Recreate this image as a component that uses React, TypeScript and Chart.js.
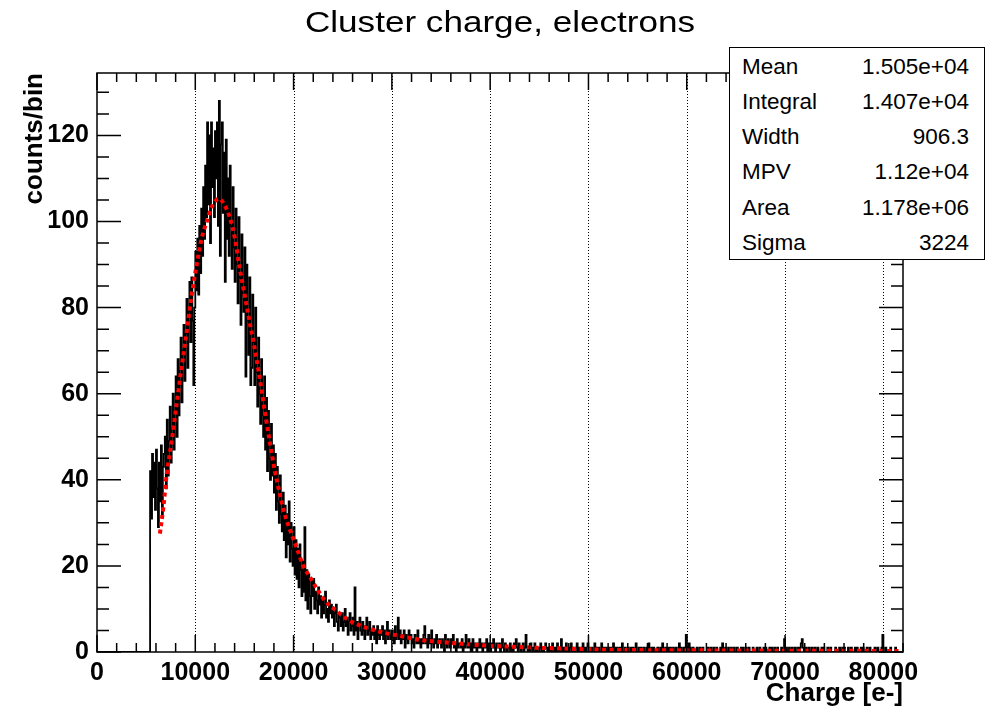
import React, { useEffect, useRef } from 'react';
import { Chart, registerables } from 'chart.js';

Chart.register(...registerables);

// ---- axis ranges / binning ----
const X_MIN = 0;
const X_MAX = 82000;
const Y_MIN = 0;
const Y_MAX = 134.5;
const BIN_WIDTH = 100;
const X_TICKS = [0, 10000, 20000, 30000, 40000, 50000, 60000, 70000, 80000];
const Y_TICKS = [0, 20, 40, 60, 80, 100, 120];
const X_LABEL_STEP = 10000;
const X_MINOR_STEP = 2000;
const Y_LABEL_STEP = 20;
const Y_MINOR_STEP = 5;
const GRID_X = [10000, 20000, 30000, 40000, 50000, 60000, 70000, 80000];

// ---- histogram contents (counts per bin, bins of BIN_WIDTH starting at X_MIN) ----
const COUNTS = [
  0, 0, 0, 0, 0, 0, 0, 0, 0, 0, 0,
  0, 0, 0, 0, 0, 0, 0, 0, 0, 0, 0,
  0, 0, 0, 0, 0, 0, 0, 0, 0, 0, 0,
  0, 0, 0, 0, 0, 0, 0, 0, 0, 0, 0,
  0, 0, 0, 0, 0, 0, 0, 0, 0, 0, 0,
  42, 31, 46, 36, 44,
  33, 47, 38, 29, 44, 35, 48, 32, 43, 46,
  50, 38, 54, 41, 49, 57, 44, 52, 60, 47,
  56, 64, 50, 68, 55, 66, 73, 58, 70, 76,
  63, 74, 82, 66, 79, 86, 72, 87, 77, 62,
  80, 93, 84, 96, 83, 99, 88, 103, 92, 108,
  96, 113, 101, 123, 104, 120, 95, 123, 108, 117,
  101, 121, 110, 123, 99, 128, 92, 118, 123, 102,
  116, 86, 119, 96, 110, 92, 113, 99, 89, 108,
  94, 86, 103, 90, 81, 101, 87, 76, 97, 83,
  79, 94, 64, 90, 77, 69, 87, 62, 66, 83,
  72, 62, 80, 65, 57, 73, 60, 53, 68, 55,
  50, 64, 47, 59, 42, 56, 45, 40, 53, 41,
  48, 37, 46, 33, 43, 35, 30, 41, 32, 28,
  37, 26, 34, 22, 32, 25, 35, 21, 30, 24,
  20, 29, 18, 26, 17, 24, 15, 25, 19, 13,
  21, 14, 29, 12, 19, 10, 18, 13, 9, 17,
  13, 17, 10, 14, 12, 9, 15, 11, 13, 8,
  12, 9, 11, 14, 8, 10, 7, 12, 9, 11,
  8, 10, 6, 9, 11, 7, 5, 9, 8, 6,
  9, 5, 7, 10, 6, 8, 4, 7, 9, 5,
  6, 8, 4, 15, 5, 7, 3, 6, 8, 5,
  4, 7, 5, 3, 6, 8, 4, 5, 7, 3,
  5, 4, 6, 3, 5, 2, 6, 4, 3, 5,
  4, 6, 3, 5, 2, 4, 7, 3, 5, 4,
  3, 5, 4, 2, 6, 3, 4, 8, 3, 5,
  2, 4, 3, 5, 1, 4, 3, 2, 5, 3,
  4, 2, 3, 1, 4, 3, 2, 5, 2, 3,
  1, 3, 2, 4, 6, 2, 3, 1, 4, 2,
  3, 5, 2, 1, 3, 2, 4, 1, 2, 3,
  2, 1, 3, 2, 0, 4, 2, 1, 3, 2,
  1, 3, 2, 4, 1, 2, 0, 3, 1, 2,
  2, 1, 3, 0, 2, 1, 4, 2, 1, 3,
  1, 2, 0, 3, 1, 2, 1, 0, 2, 1,
  3, 1, 2, 0, 1, 2, 1, 3, 0, 2,
  1, 0, 2, 1, 3, 1, 0, 2, 1, 1,
  2, 0, 1, 3, 1, 0, 2, 1, 0, 1,
  1, 2, 0, 1, 0, 2, 1, 3, 1, 0,
  2, 1, 0, 1, 2, 0, 1, 4, 1, 0,
  1, 0, 2, 1, 0, 1, 2, 0, 1, 0,
  0, 1, 2, 0, 1, 0, 1, 2, 1, 0,
  1, 0, 1, 0, 2, 1, 0, 1, 0, 2,
  0, 1, 0, 3, 1, 0, 1, 0, 2, 0,
  1, 0, 1, 2, 0, 1, 0, 0, 1, 2,
  0, 1, 0, 1, 0, 2, 0, 1, 0, 1,
  2, 0, 1, 0, 1, 0, 0, 2, 0, 1,
  0, 1, 0, 0, 2, 0, 1, 0, 1, 0,
  0, 1, 0, 1, 0, 0, 2, 0, 1, 0,
  1, 0, 0, 1, 0, 2, 0, 0, 1, 0,
  0, 1, 0, 0, 1, 0, 1, 0, 0, 2,
  0, 0, 1, 0, 1, 0, 0, 1, 0, 0,
  1, 0, 2, 0, 0, 1, 0, 1, 0, 0,
  0, 1, 0, 0, 1, 0, 2, 0, 0, 1,
  0, 0, 1, 0, 1, 0, 0, 1, 0, 0,
  1, 0, 0, 2, 0, 1, 0, 0, 1, 0,
  4, 1, 0, 2, 1, 0, 0, 1, 0, 0,
  0, 1, 0, 0, 1, 0, 0, 1, 0, 0,
  0, 0, 1, 0, 0, 1, 0, 0, 1, 0,
  0, 1, 0, 0, 0, 1, 0, 2, 0, 0,
  1, 0, 0, 1, 0, 0, 1, 0, 0, 1,
  0, 0, 1, 0, 0, 0, 1, 0, 1, 0,
  0, 1, 0, 0, 1, 0, 0, 0, 1, 0,
  0, 0, 1, 0, 0, 1, 0, 0, 0, 1,
  0, 1, 0, 0, 0, 1, 0, 1, 0, 0,
  1, 0, 0, 1, 0, 0, 0, 1, 0, 0,
  3, 0, 1, 0, 0, 1, 0, 0, 1, 0,
  0, 1, 0, 0, 1, 0, 1, 2, 3, 1,
  0, 0, 1, 0, 0, 1, 0, 0, 1, 0,
  0, 1, 0, 0, 1, 0, 0, 0, 1, 0,
  1, 0, 0, 0, 1, 0, 0, 1, 0, 0,
  0, 0, 1, 0, 0, 0, 1, 0, 0, 1,
  0, 1, 0, 0, 0, 1, 0, 0, 1, 0,
  0, 0, 1, 0, 1, 0, 0, 0, 1, 0,
  1, 0, 0, 0, 1, 0, 0, 1, 0, 0,
  0, 0, 1, 0, 0, 1, 0, 0, 0, 1,
  4, 0, 0, 1, 0, 0, 0, 0, 1, 0,
  0, 0, 0, 1, 0, 0, 0, 0, 0, 0,
];

// ---- Landau (x) Gauss fit curve ----
const FIT_X = [
  6400, 6750, 7100, 7600, 8100, 8600, 9100, 9600, 10100, 10600, 11200, 11700,
  12400, 13000, 13500, 14000, 14500, 15000, 15500, 16000, 16600, 17100, 17600,
  18100, 18600, 19100, 19600, 20300, 21000, 21700, 22400, 23200, 24400, 25400,
  26500, 28800, 30900, 32900, 35600, 39000, 42400, 47500, 52500, 60000, 70000, 81600,
];
const FIT_Y = [
  27.5, 33.6, 41.4, 49, 57.6, 66, 74, 82.4, 89.4, 95.6, 100.2, 103.5,
  105.3, 103.7, 101, 96.4, 89.4, 83.2, 77, 71, 63, 55.5, 48.5,
  42, 36.7, 32, 28.6, 24.3, 20, 17.3, 14.6, 11.9, 9.5, 7.7,
  6.4, 4.7, 3.7, 2.8, 2.2, 1.6, 1.2, 0.8, 0.5, 0.4, 0.3, 0.25,
];

// ---- texts ----
const TITLE = 'Cluster charge, electrons';
const X_TITLE = 'Charge [e-]';
const Y_TITLE = 'counts/bin';
const STATS_LABELS = ['Mean', 'Integral', 'Width', 'MPV', 'Area', 'Sigma'];
const STATS_VALUES = ['1.505e+04', '1.407e+04', '906.3', '1.12e+04', '1.178e+06', '3224'];

const FONT = '"Liberation Sans", Arial, Helvetica, sans-serif';

const rootFrame = {
  id: 'rootFrame',
  beforeDatasetsDraw(chart: any) {
    const { ctx, chartArea: a, scales } = chart;
    const xs = scales.x;
    ctx.save();
    ctx.strokeStyle = '#000';
    ctx.lineWidth = 1;
    ctx.setLineDash([1, 2]);
    GRID_X.forEach((v) => {
      const px = Math.round(xs.getPixelForValue(v)) + 0.5;
      ctx.beginPath();
      ctx.moveTo(px, a.top);
      ctx.lineTo(px, a.bottom);
      ctx.stroke();
    });
    ctx.restore();
  },
  afterDatasetsDraw(chart: any) {
    const { ctx, chartArea: a, scales } = chart;
    const xs = scales.x;
    const ys = scales.y;
    ctx.save();
    ctx.strokeStyle = '#000';
    ctx.lineWidth = 1.5;
    ctx.setLineDash([]);
    ctx.strokeRect(a.left, a.top, a.right - a.left, a.bottom - a.top);
    ctx.beginPath();
    for (let v = X_MIN; v <= X_MAX; v += X_MINOR_STEP) {
      const major = v % X_LABEL_STEP === 0;
      const px = xs.getPixelForValue(v);
      const len = major ? 17 : 9;
      ctx.moveTo(px, a.bottom);
      ctx.lineTo(px, a.bottom - len);
      ctx.moveTo(px, a.top);
      ctx.lineTo(px, a.top + len);
    }
    for (let v = Y_MIN; v <= Y_MAX; v += Y_MINOR_STEP) {
      const major = v % Y_LABEL_STEP === 0;
      const py = ys.getPixelForValue(v);
      const len = major ? 24 : 12;
      ctx.moveTo(a.left, py);
      ctx.lineTo(a.left + len, py);
      ctx.moveTo(a.right, py);
      ctx.lineTo(a.right - len, py);
    }
    ctx.stroke();
    ctx.restore();
  },
};

export default function App() {
  const canvasRef = useRef<HTMLCanvasElement | null>(null);

  useEffect(() => {
    if (!canvasRef.current) return;
    const histData = COUNTS.map((c, i) => ({ x: X_MIN + i * BIN_WIDTH, y: c }));
    histData.push({ x: X_MIN + COUNTS.length * BIN_WIDTH, y: COUNTS[COUNTS.length - 1] });
    const fitData = FIT_X.map((x, i) => ({ x, y: FIT_Y[i] }));

    const chart = new Chart(canvasRef.current, {
      type: 'line',
      data: {
        datasets: [
          {
            label: 'fit',
            data: fitData,
            borderColor: '#ff0000',
            borderWidth: 4,
            borderDash: [4, 3.5],
            pointRadius: 0,
            cubicInterpolationMode: 'monotone',
            fill: false,
            order: 0,
          },
          {
            label: 'histogram',
            data: histData,
            borderColor: '#000000',
            borderWidth: 1.8,
            pointRadius: 0,
            stepped: 'after',
            fill: false,
            order: 1,
          },
        ],
      },
      options: {
        animation: false,
        responsive: false,
        devicePixelRatio: 1,
        events: [],
        layout: { padding: { left: 0, right: 87, top: 73, bottom: 0 } },
        plugins: {
          legend: { display: false },
          tooltip: { enabled: false },
          title: { display: false },
        },
        scales: {
          x: {
            type: 'linear',
            min: X_MIN,
            max: X_MAX,
            grid: { display: false, drawTicks: false },
            border: { display: false },
            afterBuildTicks: (s: any) => {
              s.ticks = X_TICKS.map((v) => ({ value: v }));
            },
            ticks: {
              autoSkip: false,
              maxRotation: 0,
              minRotation: 0,
              padding: 6,
              color: '#000',
              font: { family: FONT, size: 25, weight: 'bold' },
              callback: (v: any) => String(v),
            },
            title: {
              display: true,
              text: X_TITLE,
              align: 'end',
              color: '#000',
              font: { family: FONT, size: 26, weight: 'bold' },
              padding: { top: 0, bottom: 5 },
            },
            afterFit: (s: any) => {
              s.height = 62;
            },
          },
          y: {
            type: 'linear',
            min: Y_MIN,
            max: Y_MAX,
            grid: { display: false, drawTicks: false },
            border: { display: false },
            afterBuildTicks: (s: any) => {
              s.ticks = Y_TICKS.map((v) => ({ value: v }));
            },
            ticks: {
              autoSkip: false,
              padding: 8,
              color: '#000',
              font: { family: FONT, size: 25, weight: 'bold' },
              callback: (v: any) => String(v),
            },
            title: {
              display: true,
              text: Y_TITLE,
              align: 'end',
              color: '#000',
              font: { family: FONT, size: 26, weight: 'bold' },
              padding: { top: 19.5, bottom: 0 },
            },
            afterFit: (s: any) => {
              s.width = 97;
            },
          },
        },
      },
      plugins: [rootFrame],
    } as any);
    return () => chart.destroy();
  }, []);

  return (
    <div style={{ position: 'absolute', left: 0, top: 0, width: 990, height: 714, background: '#fff', overflow: 'hidden' }}>
      <canvas ref={canvasRef} width={990} height={714} style={{ position: 'absolute', left: 0, top: 0, width: 990, height: 714 }} />
      <div
        style={{
          position: 'absolute',
          left: 500,
          top: 7.5,
          fontFamily: FONT,
          fontSize: 29,
          lineHeight: '29px',
          whiteSpace: 'nowrap',
          color: '#000',
          transform: 'translateX(-50%) scaleX(1.21)',
        }}
      >
        {TITLE}
      </div>
      <div
        style={{
          position: 'absolute',
          left: 729,
          top: 47,
          width: 256,
          height: 213,
          boxSizing: 'border-box',
          border: '1px solid #000',
          background: '#fff',
          fontFamily: FONT,
          fontSize: 22.5,
          color: '#000',
        }}
      >
        {STATS_LABELS.map((label, i) => (
          <div
            key={label}
            style={{
              position: 'absolute',
              left: 12,
              right: 15,
              top: 0.5 + i * 35.3,
              height: 35.3,
              lineHeight: '35.3px',
              display: 'flex',
              justifyContent: 'space-between',
              whiteSpace: 'nowrap',
            }}
          >
            <span>{label}</span>
            <span>{STATS_VALUES[i]}</span>
          </div>
        ))}
      </div>
    </div>
  );
}
